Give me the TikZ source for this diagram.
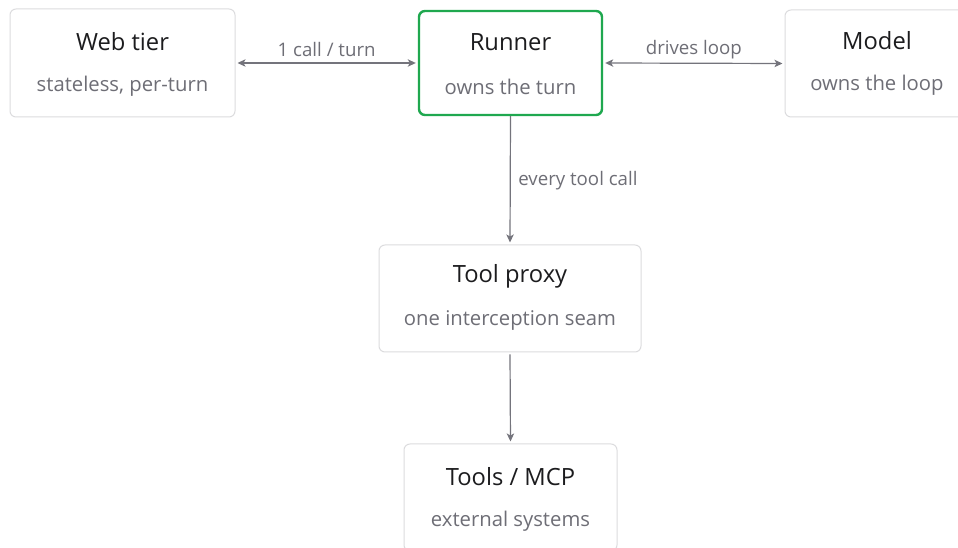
\documentclass[tikz,border=0pt]{standalone}
\usepackage{fontspec}
\setmainfont{Open Sans}
\usetikzlibrary{arrows.meta}
\definecolor{boxline}{HTML}{DCDCDE}
\definecolor{runnergreen}{HTML}{1FA84F}
\definecolor{titletext}{HTML}{1C1C1E}
\definecolor{subtext}{HTML}{6E6E76}
\definecolor{edgegray}{HTML}{74747C}
\tikzset{
  card/.style={draw=boxline, line width=0.75pt, rounded corners=4.5pt, fill=white, inner sep=0pt},
  runnercard/.style={draw=runnergreen, line width=1.8pt, rounded corners=4.5pt, fill=white, inner sep=0pt},
  titletxt/.style={text=titletext, font=\fontsize{17.8}{21}\selectfont, inner sep=0pt},
  subtxt/.style={text=subtext, font=\fontsize{15.2}{18}\selectfont, inner sep=0pt},
  edgetxt/.style={text=subtext, font=\fontsize{14}{17}\selectfont, inner sep=0pt},
  conn/.style={draw=edgegray, line width=0.9pt, -{Stealth[length=6pt,width=5.5pt,inset=1.5pt]}},
  bconn/.style={draw=edgegray, line width=0.9pt, {Stealth[length=6pt,width=5.5pt,inset=1.5pt]}-{Stealth[length=6pt,width=5.5pt,inset=1.5pt]}}
}
\begin{document}
\begin{tikzpicture}[x=0.75pt,y=-0.75pt]
\useasboundingbox[fill=white] (0,0) rectangle (958,548);
% boxes
\node[card, minimum width=225*0.75pt, minimum height=108*0.75pt] (web) at (122.5,63) {};
\node[runnercard, minimum width=183*0.75pt, minimum height=104*0.75pt] (runner) at (510.5,63) {};
\node[card, minimum width=184*0.75pt, minimum height=107*0.75pt] (model) at (877,63.5) {};
\node[card, minimum width=262*0.75pt, minimum height=107*0.75pt] (proxy) at (510,298.5) {};
\node[card, minimum width=213*0.75pt, minimum height=107*0.75pt] (tools) at (510.5,497.5) {};
% texts
\node[titletxt] (webt) at (122.5,41.5) {Web tier};
\node[subtxt] (webs) at (122.5,86) {stateless, per-turn};
\node[titletxt] (runt) at (510.5,42.5) {Runner};
\node[subtxt] (runs) at (510.5,87) {owns the turn};
\node[titletxt] (modt) at (877,40.5) {Model};
\node[subtxt] (mods) at (877,85) {owns the loop};
\node[titletxt] (proxt) at (510,276.5) {Tool proxy};
\node[subtxt] (proxs) at (510,321) {one interception seam};
\node[titletxt] (toolt) at (510.5,476.5) {Tools / MCP};
\node[subtxt] (tools2) at (510.5,521) {external systems};
% connectors
\draw[bconn, shorten <=1.5pt, shorten >=1.5pt] (web.east) -- (runner.west)
  node[midway, edgetxt, yshift=13.5*0.75pt] (l1) {1 call / turn};
\draw[bconn, shorten <=1.5pt, shorten >=1.5pt] (runner.east) -- (model.west)
  node[midway, edgetxt, yshift=14*0.75pt] (l2) {drives loop};
\draw[conn, shorten <=0pt, shorten >=1.5pt] (runner.south) -- (proxy.north)
  node[pos=0.5, edgetxt, anchor=west, xshift=7.5*0.75pt] (l3) {every tool call};
\draw[conn, shorten <=1.5pt, shorten >=1.5pt] (proxy.south) -- (tools.north);
\end{tikzpicture}
\end{document}
